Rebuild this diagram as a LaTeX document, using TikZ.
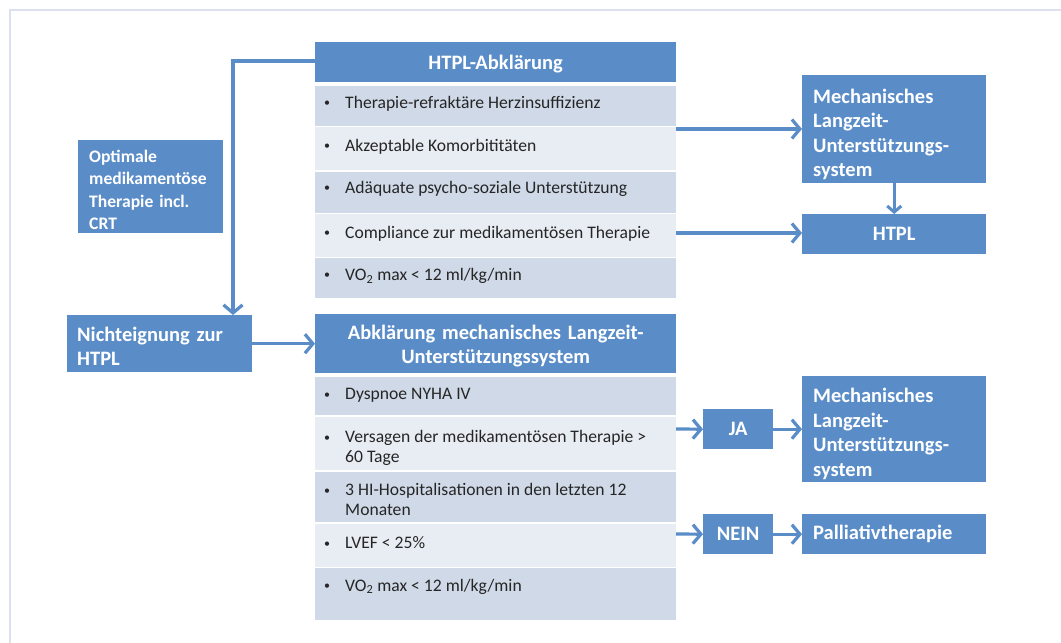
\documentclass[tikz,border=0pt]{standalone}
\usepackage{fontspec}
\setmainfont{Carlito}
\usetikzlibrary{arrows.meta}
\definecolor{boxblue}{HTML}{5A8DC8}
\definecolor{banddark}{HTML}{CFD9E7}
\definecolor{bandlight}{HTML}{E8ECF3}
\definecolor{framecol}{HTML}{DDE0EF}
\definecolor{txtcol}{HTML}{262626}
\newcommand{\bul}{\raisebox{1.5bp}{\fontsize{12bp}{12bp}\selectfont •}}
\newcommand{\pushdown}[1]{\rule{0pt}{#1}}
\begin{document}
\begin{tikzpicture}[x=1bp,y=-1bp,
  box/.style={fill=boxblue, draw=none, text=white, anchor=north west, inner ysep=0pt,
    font=\bfseries\fontsize{20.5bp}{24.5bp}\selectfont},
  smallbox/.style={box, font=\bfseries\fontsize{17.6bp}{22.5bp}\selectfont},
  band/.style={draw=none, anchor=north west, inner sep=0pt, minimum width=361bp},
  dark/.style={band, fill=banddark},
  light/.style={band, fill=bandlight},
  bulnode/.style={anchor=base, inner sep=0pt, text=txtcol, font=\fontsize{17.6bp}{21bp}\selectfont},
  item/.style={anchor=base west, inner sep=0pt, text=txtcol, font=\fontsize{17.6bp}{21bp}\selectfont},
  arr/.style={draw=boxblue, line width=3.2bp, -{Straight Barb[length=8bp,width=19bp]}},
  arrsmall/.style={draw=boxblue, line width=3bp, -{Straight Barb[length=6bp,width=14bp]}}
]
\useasboundingbox (0,0) rectangle (1061,643);
\fill[white] (0,0) rectangle (1061,643);
\draw[framecol, line width=2bp] (10,643) -- (10,10) -- (1061,10);

% ---------- upper table ----------
\node[box, minimum width=361bp, minimum height=40bp, text width=339bp, align=center, inner xsep=11bp] (htplhead) at (315,42) {\pushdown{18bp}HTPL-Abklärung};
\node[dark,  minimum height=40bp] (ur1) at (315,85.5) {};
\node[light, minimum height=43bp] (ur2) at (315,127) {};
\node[dark,  minimum height=41bp] (ur3) at (315,171.5) {};
\node[light, minimum height=42.5bp] (ur4) at (315,214) {};
\node[dark,  minimum height=40bp] (ur5) at (315,258) {};

\node[bulnode] (ub1) at (327,108.5) {\bul};
\node[item] (ut1) at (345,108.5) {Therapie-refraktäre Herzinsuffizienz};
\node[bulnode] (ub2) at (327,151.5) {\bul};
\node[item] (ut2) at (345,151.5) {Akzeptable Komorbititäten};
\node[bulnode] (ub3) at (327,193.5) {\bul};
\node[item] (ut3) at (345,193.5) {Adäquate psycho-soziale Unterstützung};
\node[bulnode] (ub4) at (327,238.5) {\bul};
\node[item] (ut4) at (345,238.5) {Compliance zur medikamentösen Therapie};
\node[bulnode] (ub5) at (327,280.5) {\bul};
\node[item] (ut5) at (345,280.5) {VO\textsubscript{2} max < 12 ml/kg/min};

% ---------- lower table ----------
\node[box, minimum width=361bp, minimum height=59bp, text width=339bp, align=center, inner xsep=11bp] (abkhead) at (315,314) {\pushdown{19bp}Abklärung mechanisches Langzeit-\\Unterstützungssystem};
\node[dark,  minimum height=38.5bp] (lr1) at (315,376.5) {};
\node[light, minimum height=53.5bp] (lr2) at (315,416.5) {};
\node[dark,  minimum height=50.5bp] (lr3) at (315,471.5) {};
\node[light, minimum height=43bp] (lr4) at (315,523.5) {};
\node[dark,  minimum height=52bp] (lr5) at (315,568) {};

\node[bulnode] (lb1) at (327,399.5) {\bul};
\node[item] (lt1) at (345,399.5) {Dyspnoe NYHA IV};
\node[bulnode] (lb2) at (327,442.5) {\bul};
\node[item] (lt2a) at (345,442.5) {Versagen der medikamentösen Therapie >};
\node[item] (lt2b) at (345,462.5) {60 Tage};
\node[bulnode] (lb3) at (327,495.5) {\bul};
\node[item] (lt3a) at (345,495.5) {3 HI-Hospitalisationen in den letzten 12};
\node[item] (lt3b) at (345,515) {Monaten};
\node[bulnode] (lb4) at (327,548.5) {\bul};
\node[item] (lt4) at (345,548.5) {LVEF < 25\%};
\node[bulnode] (lb5) at (327,591) {\bul};
\node[item] (lt5) at (345,591) {VO\textsubscript{2} max < 12 ml/kg/min};

% ---------- left boxes ----------
\node[smallbox, minimum height=93bp, text width=123bp, align=left, inner xsep=11bp] (opt) at (78,140) {\pushdown{19bp}Optimale\\medikamentöse\\Therapie incl.\\CRT};
\node[box, minimum height=57bp, text width=165bp, align=left, inner xsep=10bp] (nicht) at (67,315) {\pushdown{20bp}Nichteignung zur\\HTPL};

% ---------- right boxes ----------
\node[box, minimum height=108bp, text width=162bp, align=left, inner xsep=11bp] (mech1) at (802,75) {\pushdown{25bp}Mechanisches\\Langzeit-\\Unterstützungs-\\system};
\node[box, minimum height=40bp, text width=162bp, align=center, inner xsep=11bp] (htpl) at (802,214) {HTPL};
\node[box, minimum height=40bp, text width=48bp, align=center, inner xsep=11bp] (ja) at (703,409) {JA};
\node[box, minimum height=106bp, text width=162bp, align=left, inner xsep=11bp] (mech2) at (802,376) {\pushdown{24bp}Mechanisches\\Langzeit-\\Unterstützungs-\\system};
\node[box, minimum height=40bp, text width=48bp, align=center, inner xsep=11bp] (nein) at (703,514) {NEIN};
\node[box, minimum height=40bp, text width=162bp, align=left, inner xsep=11bp] (pall) at (802,514) {Palliativtherapie};

% ---------- connectors ----------
\coordinate (bend) at (233,61);
\draw[arr] (htplhead.west |- bend) -- (bend) -- (bend |- nicht.north);
\draw[arr] (nicht.east) -- (nicht.east -| abkhead.west);
\coordinate (a1s) at (676,129);
\draw[arr] (a1s) -- (a1s -| mech1.west);
\coordinate (a2s) at (676,233);
\draw[arr] (a2s) -- (a2s -| htpl.west);
\draw[arrsmall] (mech1.south) -- (htpl.north);
\coordinate (a3s) at (676,429);
\draw[arr] (a3s) -- (ja.west);
\draw[arr] (ja.east) -- (ja.east -| mech2.west);
\coordinate (a4s) at (676,534);
\draw[arr] (a4s) -- (nein.west);
\draw[arr] (nein.east) -- (pall.west);
\end{tikzpicture}
\end{document}
